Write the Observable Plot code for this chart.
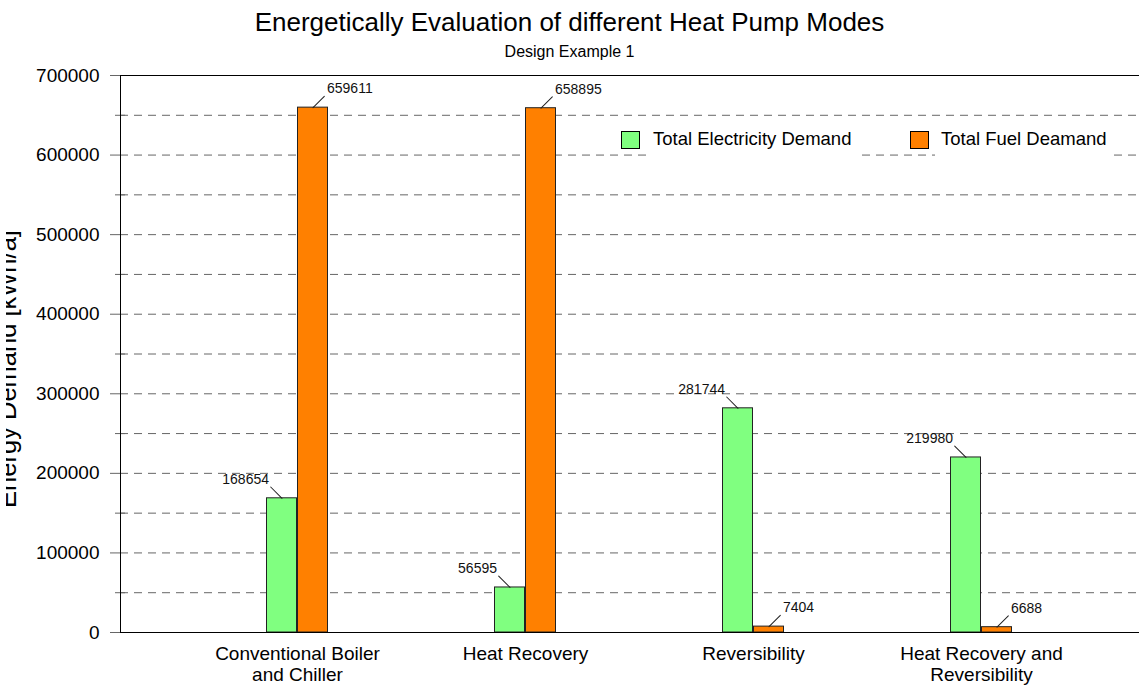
<!DOCTYPE html>
<html>
<head>
<meta charset="utf-8">
<script src="https://cdn.jsdelivr.net/npm/d3@7"></script>
<script src="https://cdn.jsdelivr.net/npm/@observablehq/plot@0.6"></script>
<style>
  body { margin: 0; background: #fff; overflow: hidden; font-family: "Liberation Sans", Arial, sans-serif; color: #000; }
  #wrap { position: relative; width: 1139px; height: 688px; overflow: hidden; }
  #chart { position: absolute; left: 0; top: 0; }
  #title { position: absolute; left: 0; top: 7px; width: 1139px; text-align: center; font-size: 26px; line-height: 30px; white-space: nowrap; }
  #subtitle { position: absolute; left: 0; top: 43px; width: 1139px; text-align: center; font-size: 16px; line-height: 18px; white-space: nowrap; }
  .sw { position: absolute; width: 17px; height: 16px; border: 1px solid #000; }
  .lt { position: absolute; font-size: 18.5px; line-height: 22px; background: #fff; padding: 0 6px 8px 6px; white-space: nowrap; }
  #ylab { position: absolute; left: 0; top: 0; }
</style>
</head>
<body>
<div id="wrap">
  <div id="chart"></div>
  <div id="title"></div>
  <div id="subtitle"></div>
  <div id="legend"></div>
  <svg id="ylab" width="60" height="688"></svg>
</div>
<script>
// ---- data ----
const categories = ["Conventional Boiler\nand Chiller", "Heat Recovery", "Reversibility", "Heat Recovery and\nReversibility"];
const electricity = [168654, 56595, 281744, 219980];
const fuel = [659611, 658895, 7404, 6688];
const seriesNames = ["Total Electricity Demand", "Total Fuel Deamand"];
const majorTicks = [0, 100000, 200000, 300000, 400000, 500000, 600000, 700000];
const minorTicks = [50000, 150000, 250000, 350000, 450000, 550000, 650000];
const gridValues = [50000, 100000, 150000, 200000, 250000, 300000, 350000, 400000, 450000, 500000, 550000, 600000, 650000];
const titleText = "Energetically Evaluation of different Heat Pump Modes";
const subtitleText = "Design Example 1";
const yLabel = "Energy Demand [kWh/a]";

const GREEN = "#80FF80", ORANGE = "#FF8000";

const data = categories.map((c, i) => ({category: c, electricity: electricity[i], fuel: fuel[i]}));

const lineShape = { draw(ctx, l) { ctx.moveTo(0, 0); ctx.lineTo(0, -l); } };

const chart = Plot.plot({
  width: 1139,
  height: 688,
  marginTop: 75,
  marginBottom: 56,
  marginLeft: 120,
  marginRight: 0,
  style: { fontFamily: "Liberation Sans, Arial, sans-serif", fontSize: "19px", color: "#000", background: "transparent", overflow: "visible" },
  x: { domain: categories, paddingInner: 0, paddingOuter: 0.2249, align: 0.59 },
  y: { domain: [0, 700000] },
  marks: [
    Plot.gridY(gridValues, { stroke: "#666", strokeOpacity: 1, strokeDasharray: "8,6" }),
    Plot.ruleY([700000], { stroke: "#000" }),
    Plot.axisY(majorTicks, { tickSize: 10, tickPadding: 11, tickFormat: d => String(d), stroke: "#666", fill: "#000", label: null }),
    Plot.axisY(minorTicks, { tickSize: 10, tickFormat: () => "", dx: 5, stroke: "#666", label: null }),
    Plot.axisX({ tickSize: 0, tickPadding: 13, lineHeight: 1.08, label: null, fill: "#000" }),
    Plot.barY(data, { x: "category", y: "electricity", fill: GREEN, stroke: "#222", strokeWidth: 1, insetLeft: 83.5, insetRight: 114.5 }),
    Plot.barY(data, { x: "category", y: "fuel", fill: ORANGE, stroke: "#222", strokeWidth: 1, insetLeft: 114.5, insetRight: 83.5 }),
    Plot.ruleY([0], { stroke: "#000" }),
    Plot.frame({ anchor: "left", stroke: "#000" }),
    Plot.vector(data, { x: "category", y: "electricity", dx: -15.5, rotate: -45, length: 16, anchor: "start", shape: lineShape, r: 0, stroke: "#222", strokeWidth: 1 }),
    Plot.vector(data, { x: "category", y: "fuel", dx: 15.5, rotate: 45, length: 16, anchor: "start", shape: lineShape, r: 0, stroke: "#222", strokeWidth: 1 }),
    Plot.text(data, { x: "category", y: "electricity", text: d => String(d.electricity), dx: -28.5, dy: -19, textAnchor: "end", fontSize: 14, fill: "#111" }),
    Plot.text(data, { x: "category", y: "fuel", text: d => String(d.fuel), dx: 29.5, dy: -19, textAnchor: "start", fontSize: 14, fill: "#111" })
  ]
});
document.getElementById("chart").appendChild(chart);

document.getElementById("title").textContent = titleText;
document.getElementById("subtitle").textContent = subtitleText;

// legend (HTML)
const legend = document.getElementById("legend");
const legendItems = [
  { name: seriesNames[0], color: GREEN, swLeft: 621, textLeft: 647 },
  { name: seriesNames[1], color: ORANGE, swLeft: 910, textLeft: 935 }
];
for (const it of legendItems) {
  const sw = document.createElement("div");
  sw.className = "sw";
  sw.style.left = it.swLeft + "px";
  sw.style.top = "131px";
  sw.style.background = it.color;
  legend.appendChild(sw);
  const t = document.createElement("div");
  t.className = "lt";
  t.style.left = it.textLeft + "px";
  t.style.top = "128px";
  t.textContent = it.name;
  legend.appendChild(t);
}

// y label (partially cut at the left edge, as in the reference)
const ns = "http://www.w3.org/2000/svg";
const svgY = document.getElementById("ylab");
const defs = document.createElementNS(ns, "defs");
const cp = document.createElementNS(ns, "clipPath");
cp.setAttribute("id", "ylclip");
const cr = document.createElementNS(ns, "rect");
cr.setAttribute("x", "6"); cr.setAttribute("y", "0");
cr.setAttribute("width", "54"); cr.setAttribute("height", "688");
cp.appendChild(cr); defs.appendChild(cp); svgY.appendChild(defs);
const yl = document.createElementNS(ns, "text");
yl.setAttribute("transform", "translate(16,369) rotate(-90)");
yl.setAttribute("text-anchor", "middle");
yl.setAttribute("font-size", "25.5");
yl.setAttribute("font-family", "Liberation Sans, Arial, sans-serif");
yl.setAttribute("fill", "#000");
yl.textContent = yLabel;
const g = document.createElementNS(ns, "g");
g.setAttribute("clip-path", "url(#ylclip)");
g.appendChild(yl);
svgY.appendChild(g);
</script>
</body>
</html>
